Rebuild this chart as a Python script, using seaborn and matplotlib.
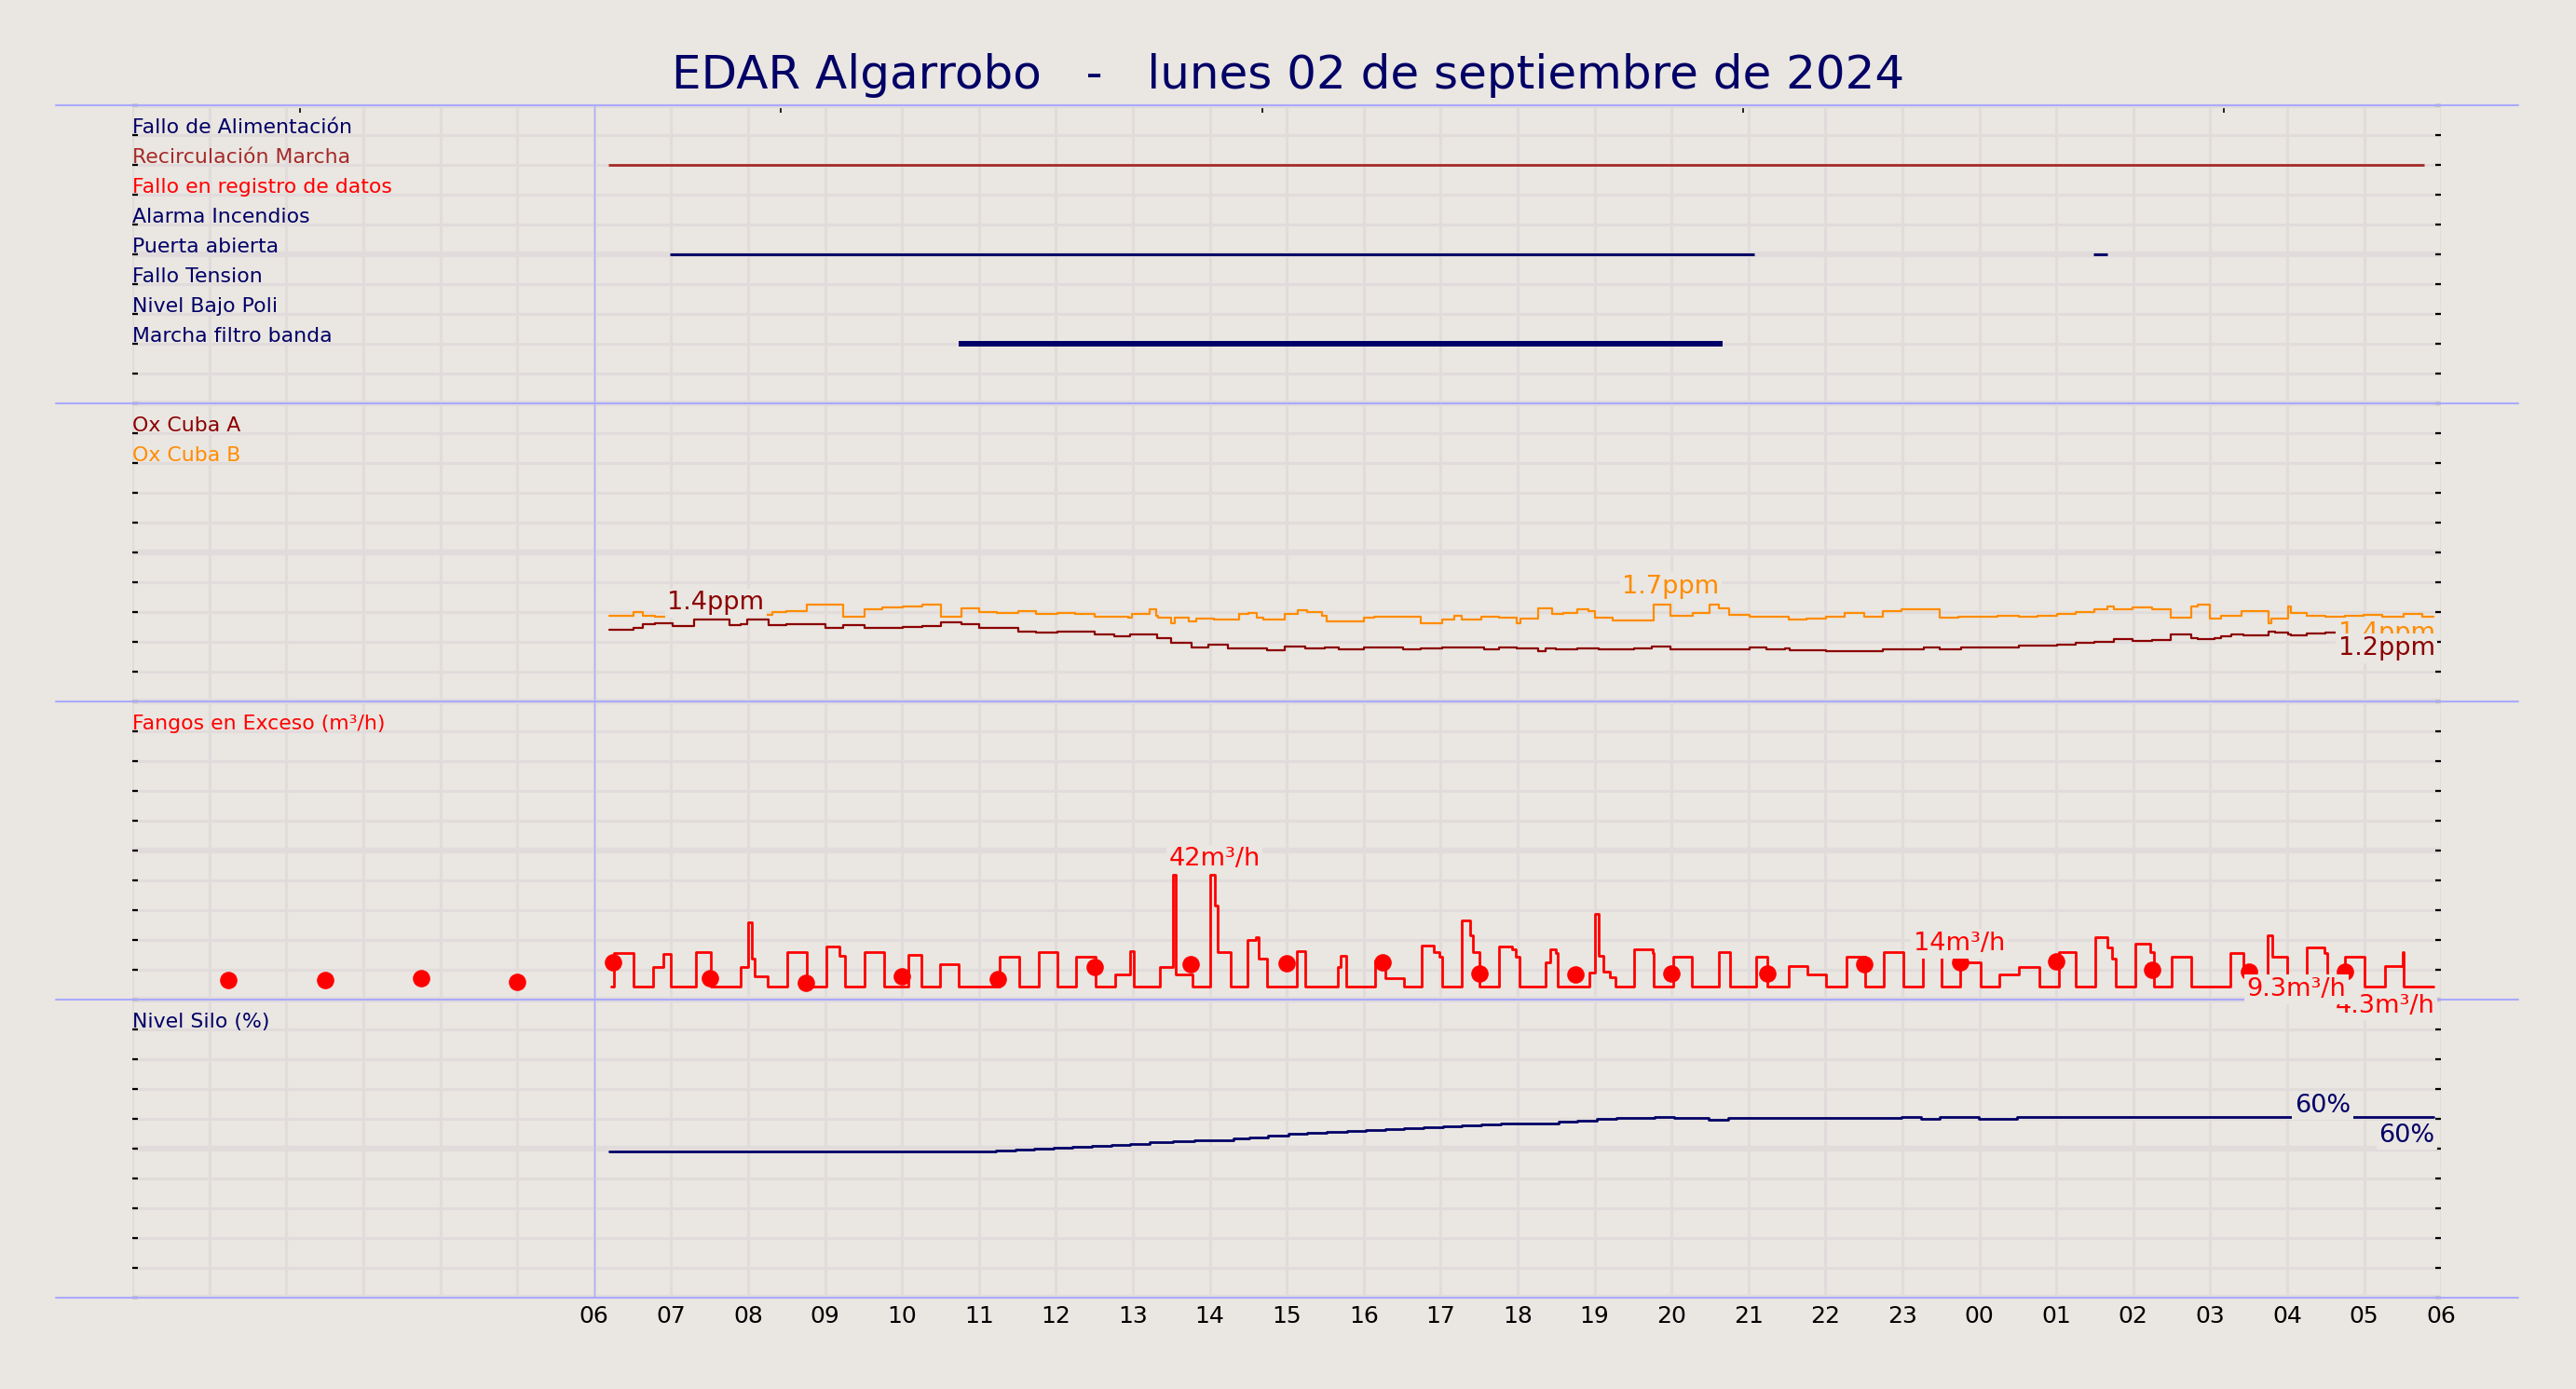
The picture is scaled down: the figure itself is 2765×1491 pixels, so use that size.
import numpy as np
import pandas as pd
import seaborn as sns
import matplotlib.pyplot as plt
from matplotlib.ticker import MultipleLocator

# colours
BG = '#EAE6E1'
GRID = '#E1DCDB'
NAVY = '#000066'
SEP = '#AAAAFF'

title = 'EDAR Algarrobo   -   lunes 02 de septiembre de 2024'

# x axis: hours from 00 of the previous day, labels only from 06 to 06
hour_ticks = list(range(0, 31))
hour_labels = ['', '', '', '', '', '',
               '06', '07', '08', '09', '10', '11', '12', '13', '14', '15', '16', '17',
               '18', '19', '20', '21', '22', '23', '00', '01', '02', '03', '04', '05', '06']
top_ticks = [2.18, 8.43, 14.68, 20.93, 27.18]

# top panel: digital signals
channels = ['Fallo de Alimentación', 'Recirculación Marcha', 'Fallo en registro de datos',
            'Alarma Incendios', 'Puerta abierta', 'Fallo Tension', 'Nivel Bajo Poli',
            'Marcha filtro banda']
channel_colors = [NAVY, 'brown', 'red', NAVY, NAVY, NAVY, NAVY, NAVY]
channel_on = {
    'Recirculación Marcha': [(6.19, 29.78)],
    'Puerta abierta': [(6.98, 21.08), (25.48, 25.67)],
    'Marcha filtro banda': [(10.74, 20.66)],
}
channel_lw = {'Recirculación Marcha': 2.0, 'Puerta abierta': 2.2, 'Marcha filtro banda': 4.3}

# oxygen (ppm)
ox_a_t = [6.20, 6.51, 6.63, 6.79, 7.02, 7.30, 7.76, 7.90, 7.99, 8.27,
          8.50, 9.01, 9.24, 9.52, 10.01, 10.26, 10.51, 10.77, 11.00, 11.51,
          11.74, 12.02, 12.50, 12.76, 12.97, 13.22, 13.31, 13.50, 13.76, 13.98,
          14.24, 14.75, 14.98, 15.24, 15.49, 15.68, 16.00, 16.18, 16.51, 16.74,
          17.02, 17.57, 17.76, 17.99, 18.27, 18.36, 18.50, 18.78, 19.05, 19.33,
          19.52, 19.75, 19.99, 20.78, 21.02, 21.23, 21.47, 21.54, 22.01, 22.75,
          22.99, 23.28, 23.49, 23.76, 24.51, 25.01, 25.25, 25.50, 25.75, 25.99,
          26.24, 26.49, 26.76, 26.84, 27.06, 27.14, 27.27, 27.43, 27.76, 27.84,
          28.01, 28.05, 28.25, 28.50, 29.90]
ox_a_v = [1.20, 1.24, 1.29, 1.31, 1.27, 1.37, 1.28, 1.30, 1.37, 1.28,
          1.29, 1.23, 1.28, 1.23, 1.25, 1.27, 1.33, 1.30, 1.23, 1.18,
          1.16, 1.18, 1.12, 1.09, 1.12, 1.13, 1.06, 0.99, 0.91, 0.95,
          0.89, 0.86, 0.93, 0.89, 0.90, 0.88, 0.90, 0.91, 0.87, 0.89,
          0.90, 0.87, 0.91, 0.89, 0.85, 0.89, 0.88, 0.89, 0.87, 0.88,
          0.89, 0.93, 0.87, 0.88, 0.90, 0.87, 0.89, 0.86, 0.85, 0.88,
          0.87, 0.90, 0.87, 0.91, 0.94, 0.96, 0.98, 1.00, 1.04, 1.01,
          1.03, 1.13, 1.06, 1.05, 1.07, 1.10, 1.13, 1.11, 1.17, 1.16,
          1.13, 1.11, 1.14, 1.15, 1.15]

ox_b_t = [6.20, 6.51, 6.63, 6.79, 6.93, 8.22, 8.31, 8.50, 8.76, 9.24,
          9.52, 9.75, 10.01, 10.26, 10.51, 10.77, 11.00, 11.23, 11.51, 11.74,
          12.02, 12.25, 12.50, 12.94, 12.99, 13.22, 13.30, 13.33, 13.50, 13.55,
          13.73, 13.82, 14.05, 14.38, 14.50, 14.61, 14.70, 14.98, 15.14, 15.26,
          15.46, 15.52, 16.00, 16.14, 16.55, 16.74, 17.02, 17.18, 17.27, 17.53,
          17.76, 17.99, 18.04, 18.27, 18.45, 18.59, 18.78, 18.92, 19.01, 19.24,
          19.77, 19.99, 20.28, 20.49, 20.61, 20.75, 21.02, 21.52, 21.76, 22.01,
          22.25, 22.50, 22.75, 22.99, 23.24, 23.49, 23.73, 24.24, 24.51, 24.76,
          25.01, 25.25, 25.50, 25.66, 25.75, 25.99, 26.24, 26.49, 26.76, 26.84,
          27.00, 27.14, 27.41, 27.76, 27.80, 28.01, 28.05, 28.25, 28.50, 28.75,
          28.99, 29.24, 29.51, 29.76, 29.90]
ox_b_v = [1.44, 1.50, 1.44, 1.42, 1.44, 1.45, 1.50, 1.51, 1.62, 1.43,
          1.55, 1.58, 1.60, 1.63, 1.43, 1.56, 1.50, 1.49, 1.51, 1.47,
          1.49, 1.47, 1.43, 1.41, 1.47, 1.54, 1.44, 1.41, 1.31, 1.40,
          1.35, 1.39, 1.38, 1.47, 1.49, 1.41, 1.37, 1.47, 1.53, 1.50,
          1.44, 1.34, 1.41, 1.43, 1.42, 1.31, 1.37, 1.44, 1.38, 1.43,
          1.41, 1.32, 1.39, 1.56, 1.47, 1.49, 1.55, 1.52, 1.41, 1.36,
          1.63, 1.44, 1.49, 1.62, 1.56, 1.45, 1.43, 1.37, 1.39, 1.43,
          1.49, 1.42, 1.51, 1.54, 1.55, 1.40, 1.42, 1.44, 1.43, 1.44,
          1.47, 1.50, 1.54, 1.59, 1.55, 1.58, 1.54, 1.41, 1.60, 1.63,
          1.39, 1.44, 1.51, 1.31, 1.39, 1.59, 1.49, 1.44, 1.43, 1.44,
          1.45, 1.43, 1.47, 1.43, 1.43]

# excess sludge (m3/h)
fangos_t = [6.22, 6.26, 6.51, 6.77, 6.90, 7.00, 7.32, 7.52, 7.91, 8.00,
            8.05, 8.08, 8.25, 8.51, 8.76, 9.02, 9.19, 9.26, 9.51, 9.77,
            10.08, 10.25, 10.50, 10.74, 11.27, 11.52, 11.78, 12.02, 12.26, 12.52,
            12.77, 12.97, 13.01, 13.35, 13.52, 13.56, 13.77, 14.01, 14.07, 14.10,
            14.27, 14.49, 14.60, 14.64, 14.75, 15.13, 15.24, 15.66, 15.70, 15.77,
            16.15, 16.28, 16.53, 16.76, 16.91, 16.98, 17.02, 17.27, 17.38, 17.42,
            17.51, 17.76, 17.93, 17.98, 18.03, 18.37, 18.43, 18.50, 18.52, 18.93,
            19.00, 19.01, 19.06, 19.12, 19.20, 19.27, 19.51, 19.76, 19.77, 20.02,
            20.26, 20.62, 20.76, 21.10, 21.25, 21.53, 21.77, 22.01, 22.28, 22.52,
            22.76, 23.01, 23.27, 23.51, 23.75, 24.02, 24.26, 24.52, 24.78, 25.04,
            25.25, 25.51, 25.66, 25.73, 25.77, 26.03, 26.22, 26.27, 26.50, 26.76,
            27.26, 27.43, 27.49, 27.75, 27.81, 28.00, 28.25, 28.48, 28.52, 28.75,
            29.01, 29.27, 29.50, 29.52, 29.90]
fangos_v = [4.35, 15.5, 4.35, 11.1, 15.3, 4.35, 15.8, 4.35, 11.1, 25.9,
            13.7, 7.8, 4.35, 15.8, 4.35, 17.9, 14.7, 4.35, 15.8, 4.35,
            14.9, 4.35, 11.8, 4.35, 14.5, 4.35, 15.8, 4.35, 14.5, 4.35,
            8.5, 16.3, 4.35, 11.1, 41.9, 8.5, 4.35, 41.9, 31.6, 15.8,
            4.35, 19.9, 21.0, 13.7, 4.35, 16.3, 4.35, 11.1, 14.7, 4.35,
            13.2, 7.2, 4.35, 18.0, 15.8, 14.5, 4.35, 26.5, 21.5, 15.8,
            4.35, 17.9, 16.8, 14.5, 4.35, 12.4, 16.8, 15.5, 4.35, 9.0,
            12.2, 28.8, 14.7, 9.5, 7.5, 4.35, 17.0, 15.5, 4.35, 14.4,
            4.35, 15.8, 4.35, 14.4, 4.35, 11.4, 8.5, 4.35, 14.4, 4.35,
            15.8, 4.35, 14.4, 4.35, 12.5, 4.35, 8.5, 11.1, 4.35, 15.8,
            4.35, 21.0, 17.5, 13.7, 4.35, 18.9, 15.8, 4.35, 14.4, 4.35,
            15.5, 11.1, 4.35, 21.5, 14.4, 4.35, 17.6, 15.5, 4.35, 14.4,
            4.35, 11.4, 15.8, 4.35, 4.35]

# 75 minute averages (dots)
fangos_avg_t = [1.25, 2.5, 3.75, 5.0, 6.25, 7.5, 8.75, 10.0, 11.25, 12.5, 13.75, 15.0,
                16.25, 17.5, 18.75, 20.0, 21.25, 22.5, 23.75, 25.0, 26.25, 27.5, 28.75]
fangos_avg_v = [6.6, 6.6, 7.1, 6.0, 12.4, 7.1, 5.5, 7.7, 6.9, 11.0, 11.8, 12.1,
                12.6, 8.8, 8.5, 8.8, 8.8, 11.9, 12.4, 12.7, 10.1, 9.5, 9.5]

# silo level (%)
silo_t = [6.20, 11.22, 11.47, 11.72, 11.97, 12.22, 12.47, 12.72, 12.97, 13.22,
          13.52, 13.80, 14.05, 14.31, 14.51, 14.76, 15.02, 15.27, 15.52, 15.78,
          16.03, 16.28, 16.53, 16.78, 17.03, 17.28, 17.53, 17.78, 18.03, 18.28,
          18.53, 18.78, 19.03, 19.28, 19.78, 20.03, 20.48, 20.74, 22.99, 23.24,
          23.49, 23.99, 24.49, 29.90]
silo_v = [49.0, 49.3, 49.6, 49.9, 50.2, 50.5, 51.1, 51.3, 51.7, 52.1,
          52.4, 52.7, 52.9, 53.3, 53.9, 54.5, 54.9, 55.2, 55.5, 55.8,
          56.2, 56.5, 56.9, 57.2, 57.5, 57.7, 58.0, 58.3, 58.4, 58.6,
          59.2, 59.5, 59.9, 60.2, 60.5, 60.2, 59.8, 60.2, 60.5, 60.1,
          60.5, 60.1, 60.5, 60.5]

# value labels: text, x, y (panel units), colour, alignment
label_txt = ['1.4ppm', '1.7ppm', '1.4ppm', '1.2ppm', '42m³/h', '14m³/h', '4.3m³/h', '9.3m³/h', '60%', '60%']
label_x = [7.58, 19.99, 29.92, 29.92, 14.06, 23.74, 29.92, 28.12, 28.46, 29.92]
label_y = [23.30, 23.86, 22.27, 21.78, 14.71, 11.88, 9.79, 10.35, 6.45, 5.45]
label_col = ['darkred', 'darkorange', 'darkorange', 'darkred', 'red', 'red', 'red', 'red', NAVY, NAVY]
label_ha = ['center', 'center', 'right', 'right', 'center', 'center', 'right', 'center', 'center', 'right']

sns.set_theme(style='white', rc={'axes.facecolor': BG, 'figure.facecolor': BG})
plt.rcParams['font.family'] = ['DejaVu Sans']

fig = plt.figure(figsize=(27.65, 14.91), dpi=100)
ax = fig.add_axes([0.0514, 0.0657, 0.8962, 0.8585])
ax.set_xlim(0, 30)
ax.set_ylim(0, 40)

# grid
ax.set_xticks(hour_ticks)
ax.set_xticklabels(hour_labels)
ax.yaxis.set_major_locator(MultipleLocator(5))
ax.yaxis.set_minor_locator(MultipleLocator(1))
ax.xaxis.grid(True, which='major', color=GRID, lw=2.2)
ax.yaxis.grid(True, which='major', color=GRID, lw=4.5)
ax.yaxis.grid(True, which='minor', color=GRID, lw=2.2)
ax.set_axisbelow(True)
for s in ax.spines.values():
    s.set_visible(False)
ax.tick_params(axis='x', which='both', length=0, labelsize=18, pad=6, labelcolor='black')
ax.tick_params(axis='y', which='both', direction='in', left=True, right=True,
               length=4, width=1.6, color='black', labelleft=False)

sec = ax.secondary_xaxis('top')
sec.set_xticks(top_ticks)
sec.set_xticklabels([])
sec.tick_params(direction='in', length=6, width=1.2, color='black')
for s in sec.spines.values():
    s.set_visible(False)

# panel separators
for yb in [0, 10, 20, 30, 40]:
    ax.axhline(yb, xmin=-1 / 30, xmax=31 / 30, color=SEP, lw=1.5, clip_on=False, zorder=3)
ax.axvline(6, color=SEP, lw=1, zorder=3)

# digital signals
for i, (name, col) in enumerate(zip(channels, channel_colors)):
    yk = 40 - (i + 1)
    ax.text(0.0, yk + 0.05, name, color=col, fontsize=15.8, va='baseline', ha='left')
    for start, end in channel_on.get(name, []):
        sns.lineplot(x=[start, end], y=[yk, yk], ax=ax, color=col, lw=channel_lw[name],
                     estimator=None, solid_capstyle='butt', zorder=4)

# oxygen panel (0-5 ppm)
ax.text(0.0, 29.05, 'Ox Cuba A', color='darkred', fontsize=15.8, va='baseline')
ax.text(0.0, 28.05, 'Ox Cuba B', color='darkorange', fontsize=15.8, va='baseline')
ox = pd.DataFrame({'t': ox_b_t, 'y': 20 + 2 * np.array(ox_b_v)})
sns.lineplot(data=ox, x='t', y='y', ax=ax, color='darkorange', lw=1.6,
             drawstyle='steps-post', estimator=None, zorder=4)
ox = pd.DataFrame({'t': ox_a_t, 'y': 20 + 2 * np.array(ox_a_v)})
sns.lineplot(data=ox, x='t', y='y', ax=ax, color='darkred', lw=1.6,
             drawstyle='steps-post', estimator=None, zorder=4)

# fangos panel (0-100 m3/h)
ax.text(0.0, 19.05, 'Fangos en Exceso (m³/h)', color='red', fontsize=15.8, va='baseline')
fg = pd.DataFrame({'t': fangos_t, 'y': 10 + np.array(fangos_v) / 10})
sns.lineplot(data=fg, x='t', y='y', ax=ax, color='red', lw=2.0,
             drawstyle='steps-post', estimator=None, zorder=4)
sns.scatterplot(x=fangos_avg_t, y=10 + np.array(fangos_avg_v) / 10, ax=ax,
                color='red', s=180, linewidth=0, zorder=5)

# silo panel (0-100 %)
ax.text(0.0, 9.05, 'Nivel Silo (%)', color=NAVY, fontsize=15.8, va='baseline')
sl = pd.DataFrame({'t': silo_t, 'y': np.array(silo_v) / 10})
sns.lineplot(data=sl, x='t', y='y', ax=ax, color=NAVY, lw=2.0,
             drawstyle='steps-post', estimator=None, zorder=4)

for txt, x, y, col, ha in zip(label_txt, label_x, label_y, label_col, label_ha):
    ax.text(x, y, txt, color=col, fontsize=19.5, ha=ha, va='center', zorder=6,
            bbox=dict(boxstyle='square,pad=0.1', fc=BG, ec='none'))

ax.set_xlabel('')
ax.set_ylabel('')
fig.text(0.5, 0.9457, title, ha='center', va='center', fontsize=36, color=NAVY)

fig.savefig('out.png', dpi=100, facecolor=BG)
